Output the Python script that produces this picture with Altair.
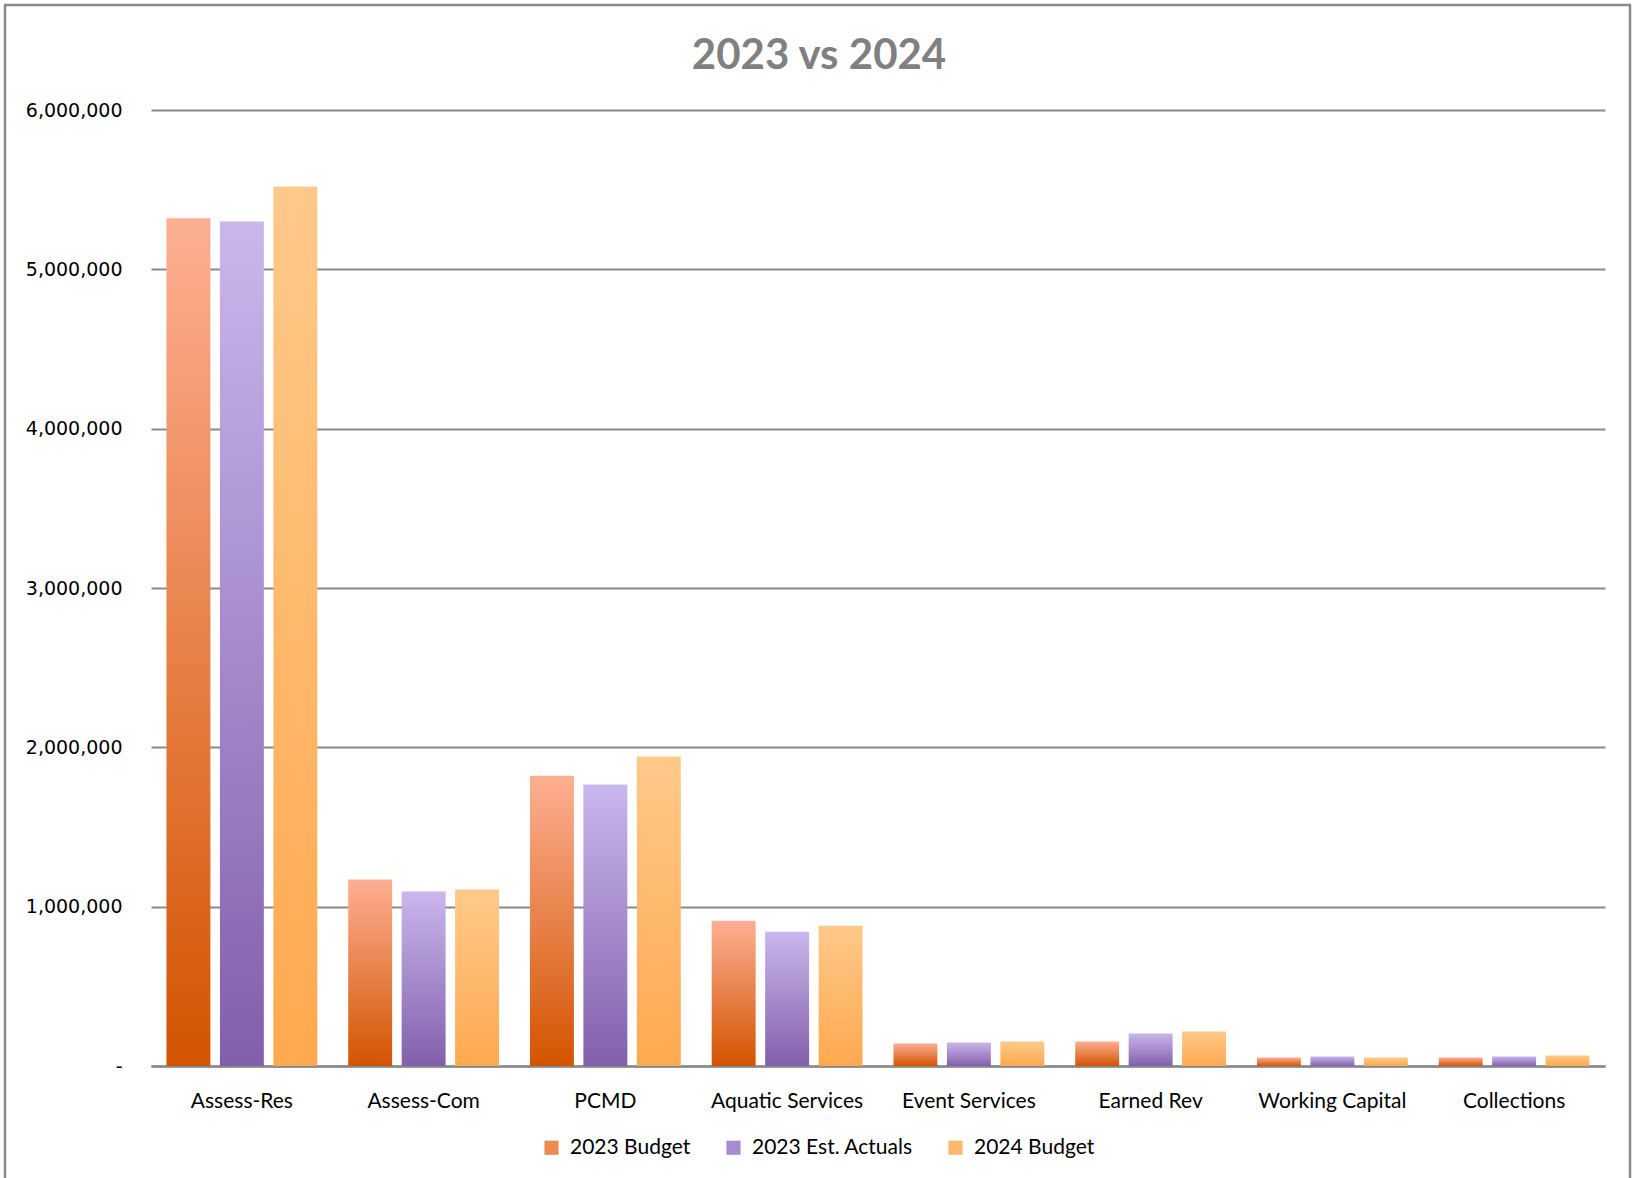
import altair as alt
import pandas as pd

categories = ["Assess-Res", "Assess-Com", "PCMD", "Aquatic Services",
              "Event Services", "Earned Rev", "Working Capital", "Collections"]
series_names = ["2023 Budget", "2023 Est. Actuals", "2024 Budget"]
budget_2023 = [5320000, 1170000, 1822000, 912000, 141000, 154000, 53000, 53000]
est_actuals_2023 = [5300000, 1095000, 1766000, 843000, 147000, 204000, 60000, 60000]
budget_2024 = [5520000, 1107000, 1942000, 881000, 154000, 217000, 53000, 66000]
y_ticks = [0, 1000000, 2000000, 3000000, 4000000, 5000000, 6000000]
chart_title = ["2023 vs 2024"]

series_values = [budget_2023, est_actuals_2023, budget_2024]
rows = []
for s, vals in zip(series_names, series_values):
    for c, v in zip(categories, vals):
        rows.append({"category": c, "series": s, "value": v})
df = pd.DataFrame(rows)

gradients = {
    "2023 Budget": ("#FDAF93", "#D35400"),
    "2023 Est. Actuals": ("#CAB6EC", "#8160AB"),
    "2024 Budget": ("#FFC98A", "#FFA94F"),
}
legend_colors = ["#EE8A50", "#A68BD0", "#FDB86C"]

W, H = 1454, 956
GRID = "#8a8a8a"

x_enc = alt.X("category:N", sort=categories, title=None,
              scale=alt.Scale(paddingInner=0.17, paddingOuter=0.085),
              axis=alt.Axis(labelAngle=0, labelFont="Lato", labelFontSize=21,
                            labelColor="#000000", labelPadding=24, ticks=False,
                            domain=True, domainColor=GRID, domainWidth=2.5,
                            labelLimit=300))
y_enc = alt.Y("value:Q", title=None,
              scale=alt.Scale(domain=[0, 6000000], nice=False),
              axis=alt.Axis(values=y_ticks, domain=False, ticks=False,
                            grid=True, gridColor=GRID, gridWidth=2,
                            labelFont="DejaVu Sans", labelFontSize=19,
                            labelColor="#000000", labelPadding=29,
                            labelExpr="datum.value == 0 ? '-' : format(datum.value, ',')"))
xoff = alt.XOffset("series:N", sort=series_names,
                   scale=alt.Scale(domain=series_names, paddingInner=0.178, paddingOuter=0))

layers = []
for s in series_names:
    top, bottom = gradients[s]
    grad = alt.LinearGradient(
        gradient="linear", x1=0, x2=0, y1=0, y2=1,
        stops=[alt.GradientStop(offset=0, color=top),
               alt.GradientStop(offset=1, color=bottom)])
    layers.append(
        alt.Chart(df).transform_filter(alt.datum.series == s)
        .mark_bar(color=grad)
        .encode(x=x_enc, y=y_enc, xOffset=xoff)
    )

legend_layer = alt.Chart(df).mark_square(opacity=0, size=1).encode(
    x=alt.X("category:N", sort=categories),
    y="value:Q",
    color=alt.Color("series:N", sort=series_names,
                    scale=alt.Scale(domain=series_names, range=legend_colors),
                    legend=alt.Legend(title=None, orient="none", direction="horizontal",
                                      legendX=390, legendY=1027,
                                      symbolType="square", symbolSize=200,
                                      symbolOpacity=1, symbolStrokeWidth=0,
                                      labelFont="Lato", labelFontSize=21,
                                      labelColor="#000000", labelOffset=8,
                                      columnPadding=32, labelLimit=400)),
)

border_df = pd.DataFrame({"k": [0]})
left_border = alt.Chart(border_df).mark_rule(color=GRID, strokeWidth=2.5).encode(
    x=alt.value(-146), y=alt.value(-105), y2=alt.value(1070))
right_border = alt.Chart(border_df).mark_rule(color=GRID, strokeWidth=2.5).encode(
    x=alt.value(1479), y=alt.value(-105), y2=alt.value(1070))
top_border = alt.Chart(border_df).mark_rule(color=GRID, strokeWidth=2.5).encode(
    x=alt.value(-147), x2=alt.value(1480), y=alt.value(-105))

title_layer = alt.Chart(pd.DataFrame({"t": chart_title})).mark_text(
    font="Lato", fontSize=42, fontWeight="bold", color="#808080",
    align="center", baseline="middle"
).encode(text="t:N", x=alt.value(668), y=alt.value(-54))

chart = alt.layer(*layers, legend_layer, left_border, right_border, top_border,
                  title_layer).properties(
    width=W, height=H,
    autosize=alt.AutoSizeParams(type="none"),
    padding={"left": 151, "top": 110, "right": 27, "bottom": 112},
    background="white",
).configure_view(strokeWidth=0, stroke="transparent")

chart.save("out.html", embed_options={"renderer": "svg", "actions": False})
